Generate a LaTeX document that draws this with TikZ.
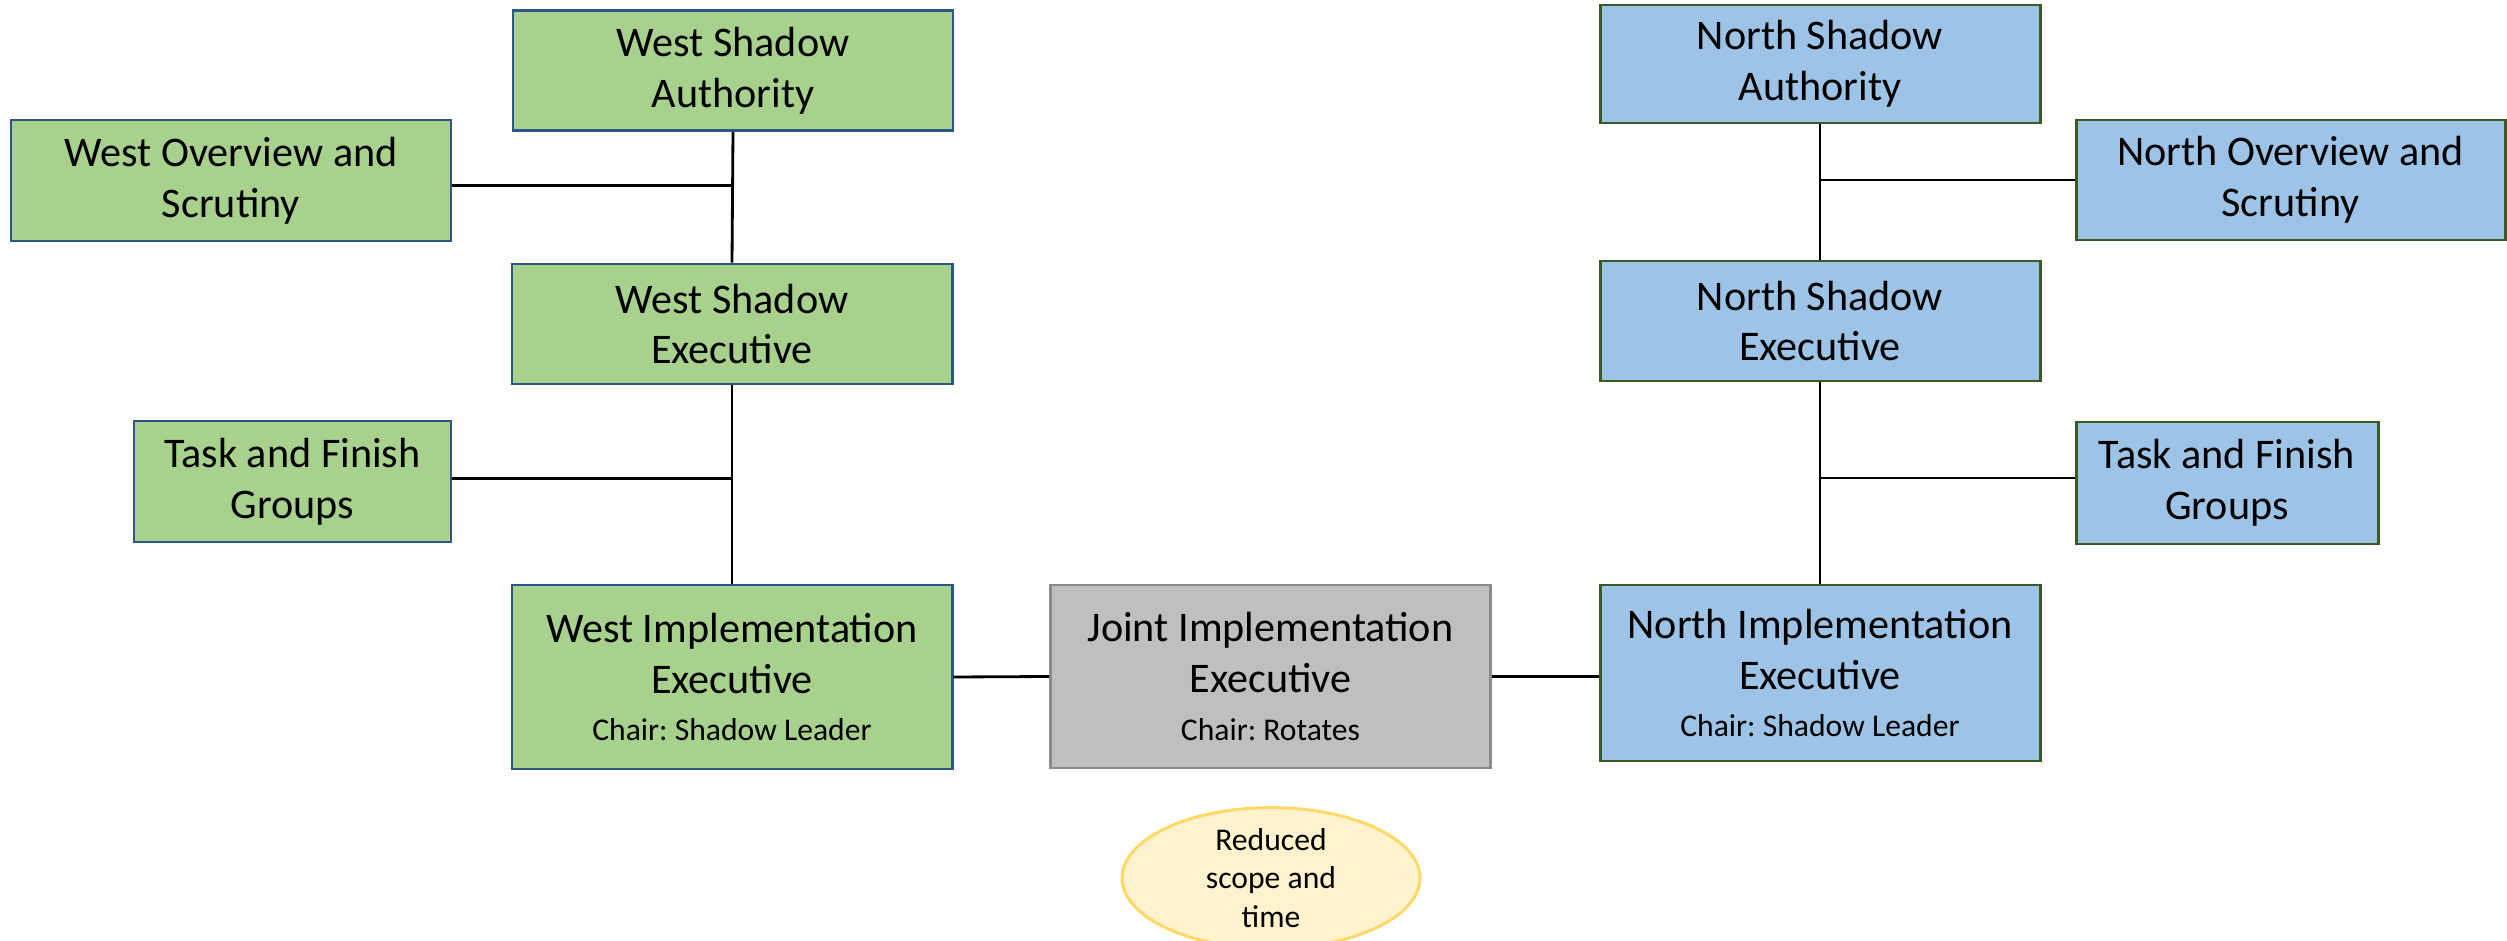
\documentclass[tikz,border=0pt]{standalone}
\usepackage{fontspec}
\setmainfont{Carlito}
\usetikzlibrary{shapes.geometric}
\frenchspacing

\definecolor{westfill}{HTML}{A9D18E}
\definecolor{westline}{HTML}{2F5588}
\definecolor{northfill}{HTML}{9DC3E6}
\definecolor{northline}{HTML}{3A5A24}
\definecolor{jointfill}{HTML}{BFBFBF}
\definecolor{jointline}{HTML}{8A8A8A}
\definecolor{notefill}{HTML}{FFF2CC}
\definecolor{noteline}{HTML}{FFD966}

\begin{document}
\begin{tikzpicture}[
    every node/.style={rectangle, draw, line width=0.85pt, minimum width=4.4cm, minimum height=1.2cm, align=center, inner sep=2pt, font=\fontsize{12}{14.5}\selectfont},
    westbox/.style={fill=westfill, draw=westline},
    northbox/.style={fill=northfill, draw=northline},
    jointbox/.style={fill=jointfill, draw=jointline},
    notebox/.style={ellipse, fill=notefill, draw=noteline, minimum width=2.98cm, minimum height=1.28cm, inner sep=0pt, font=\fontsize{9}{11}\selectfont},
    link/.style={draw=black, line width=0.8pt}
]
\useasboundingbox (0,0) rectangle (25.07,-9.41);

% West side
\node[westbox] (wsa) at (7.33,-0.705) {West Shadow\\Authority};
\node[westbox, minimum height=1.21cm] (wos) at (2.31,-1.805) {West Overview and\\Scrutiny};
\node[westbox] (wse) at (7.32,-3.24) {West Shadow\\Executive};
\node[westbox, minimum width=3.17cm, minimum height=1.21cm] (wtf) at (2.925,-4.815) {Task and Finish\\Groups};
\node[westbox, minimum height=1.84cm] (wie) at (7.32,-6.77) {West Implementation\\Executive\\[-1pt]{\fontsize{9}{11}\selectfont Chair: Shadow Leader}};

% Joint
\node[jointbox, minimum height=1.83cm] (jie) at (12.705,-6.765) {Joint Implementation\\Executive\\[-1pt]{\fontsize{9}{11}\selectfont Chair: Rotates}};

% North side
\node[northbox, minimum height=1.18cm] (nsa) at (18.2,-0.64) {North Shadow\\Authority};
\node[northbox, minimum width=4.29cm] (nos) at (22.905,-1.8) {North Overview and\\Scrutiny};
\node[northbox] (nse) at (18.2,-3.21) {North Shadow\\Executive};
\node[northbox, minimum width=3.02cm, minimum height=1.22cm] (ntf) at (22.27,-4.83) {Task and Finish\\Groups};
\node[northbox, minimum height=1.76cm] (nie) at (18.2,-6.73) {North Implementation\\Executive\\[-1pt]{\fontsize{9}{11}\selectfont Chair: Shadow Leader}};

% Note
\node[notebox] (note) at (12.71,-8.78) {Reduced\\scope and\\time};

% West links
\draw[link] (wsa.south) -- (wse.north);
\draw[link] (wse.south) -- (wie.north);
\draw[link] ([yshift=-0.05cm]wos.east) -- ([yshift=-0.05cm]wos.east -| wsa.south);
\draw[link] ([yshift=0.03cm]wtf.east) -- ([yshift=0.03cm]wtf.east -| wse.south);

% North links
\draw[link] (nsa.south) -- (nse.north);
\draw[link] (nse.south) -- (nie.north);
\draw[link] (nos.west) -- (nos.west -| nsa.south);
\draw[link] ([yshift=0.05cm]ntf.west) -- ([yshift=0.05cm]ntf.west -| nse.south);

% Joint links
\draw[link] (wie.east) -- (jie.west);
\draw[link] (jie.east) -- (jie.east -| nie.west);

\end{tikzpicture}
\end{document}
